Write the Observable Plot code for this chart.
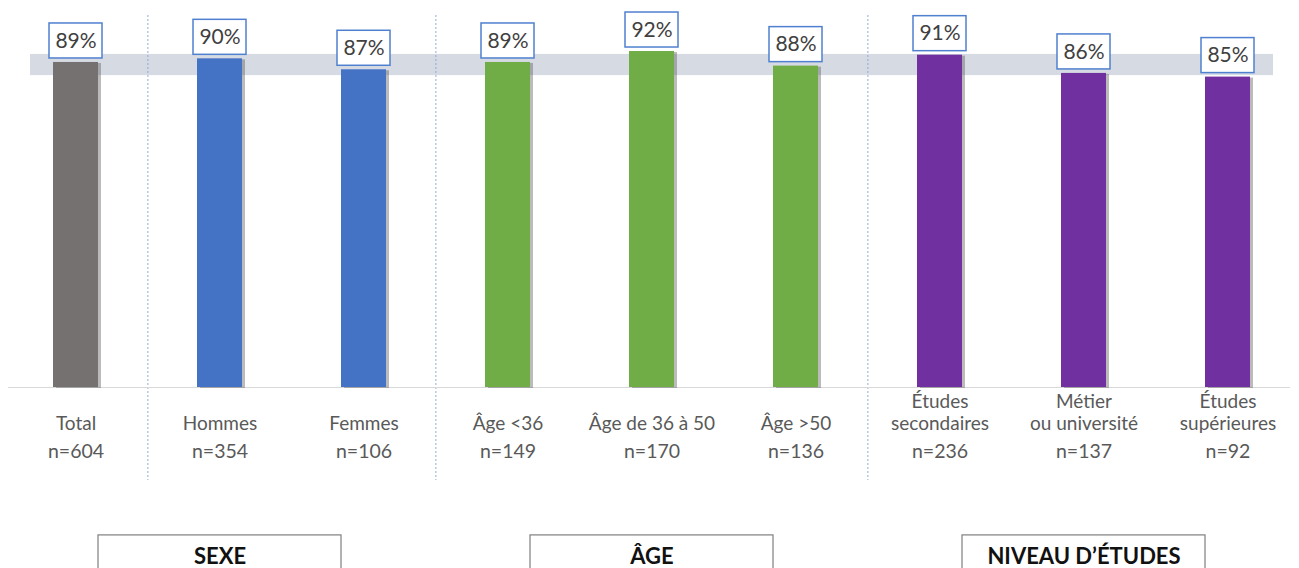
<!DOCTYPE html>
<html><head><meta charset="utf-8">
<script src="https://cdn.jsdelivr.net/npm/d3@7"></script>
<script src="https://cdn.jsdelivr.net/npm/@observablehq/plot@0.6"></script>
<style>body{margin:0;background:#fff}#chart svg{display:block}</style>
</head><body><div id="chart"></div>
<script>
const categories = ["Total","Hommes","Femmes","Âge <36","Âge de 36 à 50","Âge >50","Études\nsecondaires","Métier\nou université","Études\nsupérieures"];
const values = [89,90,87,89,92,88,91,86,85];
const sampleSizes = [604,354,106,149,170,136,236,137,92];
const groups = ["Total","Sexe","Sexe","Âge","Âge","Âge","Niveau","Niveau","Niveau"];
const groupDomain = ["Total","Sexe","Âge","Niveau"];
const groupTitles = ["SEXE","ÂGE","NIVEAU D’ÉTUDES"];
const groupTitleAnchors = ["Hommes","Âge de 36 à 50","Métier\nou université"];
const separatorsBefore = ["Hommes","Âge <36","Études\nsecondaires"];
const referenceBand = [85.4, 91.2];

const data = categories.map((c,i)=>({category:c, value:values[i], n:sampleSizes[i], group:groups[i]}));
const titles = groupTitles.map((t,i)=>({title:t, anchor:groupTitleAnchors[i]}));

const chart = Plot.plot({
  width:1299, height:568,
  marginTop:15, marginBottom:88, marginLeft:30, marginRight:26,
  x:{domain:categories, paddingInner:0.69, paddingOuter:0.155, axis:null},
  y:{domain:[0,100], range:[387,21.8], axis:null},
  color:{domain:groupDomain, range:["#767171","#4472c4","#70ad47","#7030a0"]},
  style:{fontFamily:"Lato, 'Open Sans', sans-serif", background:"white"},
  marks:[
    Plot.rect([referenceBand], {y1:d=>d[0], y2:d=>d[1], fill:"#d5dae3"}),
    Plot.ruleX(separatorsBefore, {x:d=>d, dx:-72.1, stroke:"#8faadc", strokeDasharray:"2,2", strokeWidth:1}),
    Plot.ruleY([0], {stroke:"#d9d9d9", insetLeft:-22, insetRight:-17}),
    Plot.barY(data, {x:"category", y:"value", dx:3, dy:1, fill:"#555", fillOpacity:0.4, ariaLabel:"shadow"}),
    Plot.barY(data, {x:"category", y:"value", fill:"group"}),
    Plot.barY(data, {x:"category", y1:"value", y2:"value", insetTop:-39, insetBottom:4, insetLeft:-4, insetRight:-4, fill:"white", stroke:"#5080d0", strokeWidth:1.5}),
    Plot.text(data, {x:"category", y:"value", text:d=>d.value+"%", dy:-21.5, fontSize:21, fill:"#404040"}),
    Plot.text(data, {x:"category", text:"category", frameAnchor:"bottom", lineAnchor:"bottom", dy:-51, fontSize:19, lineHeight:1.12, fill:"#595959"}),
    Plot.text(data, {x:"category", text:d=>"n="+d.n, frameAnchor:"bottom", lineAnchor:"bottom", dy:-23, fontSize:19.5, fill:"#595959"}),
    Plot.barY(titles, {x:"anchor", y1:-40.5, y2:-52, insetLeft:-99, insetRight:-99, fill:"white", stroke:"#7f7f7f", strokeWidth:1.2}),
    Plot.text(titles, {x:"anchor", text:"title", frameAnchor:"bottom", lineAnchor:"bottom", dy:83, fontSize:22, fontWeight:"bold", fill:"#111"})
  ]
});
document.getElementById("chart").append(chart);
const svg = d3.select(chart);
svg.insert("defs", ":first-child").html('<filter id="shblur" x="-30%" y="-10%" width="160%" height="120%"><feGaussianBlur stdDeviation="2"/></filter>');
svg.selectAll('g[aria-label="shadow"]').attr("filter","url(#shblur)");
</script></body></html>
